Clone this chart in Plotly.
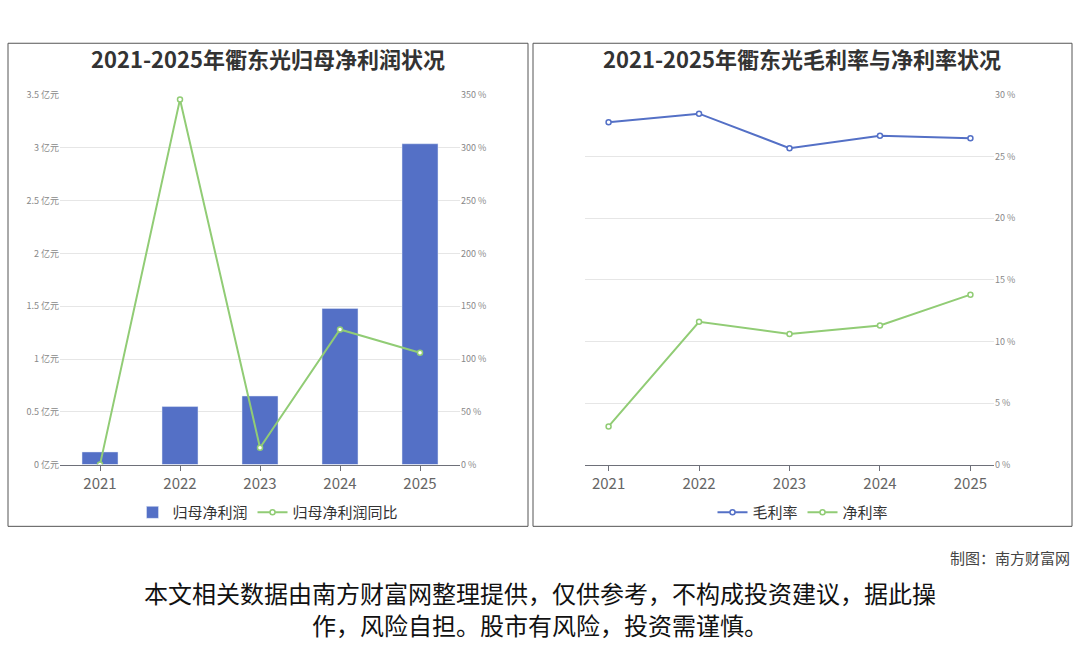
import plotly.graph_objects as go

years = ["2021", "2022", "2023", "2024", "2025"]
profit = [0.12, 0.55, 0.65, 1.48, 3.04]
profit_yoy = [0, 346, 16, 128, 106]
gross_margin = [27.8, 28.5, 25.7, 26.7, 26.5]
net_margin = [3.1, 11.6, 10.6, 11.3, 13.8]

W, H = 1080, 646
def px(x): return x / W
def py(y): return 1 - y / H

BLUE = "#5470c6"; GREEN = "#91cc75"
font = "Noto Sans CJK SC"
fig = go.Figure()
fig.add_trace(go.Bar(x=years, y=profit, name="归母净利润", marker_color=BLUE, width=0.45,
                     xaxis="x", yaxis="y", legend="legend"))
fig.add_trace(go.Scatter(x=years, y=profit_yoy, name="归母净利润同比", mode="lines+markers",
                         line=dict(color=GREEN, width=2), marker=dict(size=5, color="white", line=dict(color=GREEN, width=1.5)),
                         xaxis="x", yaxis="y2", legend="legend"))
fig.add_trace(go.Scatter(x=years, y=gross_margin, name="毛利率", mode="lines+markers",
                         line=dict(color=BLUE, width=2), marker=dict(size=5, color="white", line=dict(color=BLUE, width=1.5)),
                         xaxis="x2", yaxis="y3", legend="legend2"))
fig.add_trace(go.Scatter(x=years, y=net_margin, name="净利率", mode="lines+markers",
                         line=dict(color=GREEN, width=2), marker=dict(size=5, color="white", line=dict(color=GREEN, width=1.5)),
                         xaxis="x2", yaxis="y3", legend="legend2"))

tickf = dict(size=9, color="#888")
xax = dict(type="category", showgrid=False, showline=True, linecolor="#6e7079", ticks="outside",
           tickcolor="#6e7079", tickfont=dict(size=15, color="#666"), fixedrange=True)
fig.update_layout(
    width=W, height=H, margin=dict(l=0, r=0, t=0, b=0), paper_bgcolor="white", plot_bgcolor="white",
    font=dict(family=font), showlegend=True,
    xaxis=dict(domain=[px(60), px(460)], anchor="y", **xax),
    yaxis=dict(domain=[py(467), py(90)], range=[0, 3.5], dtick=0.5, ticksuffix=" 亿元",
               gridcolor="#e6e6e6", tickfont=tickf, zeroline=False),
    yaxis2=dict(overlaying="y", side="right", anchor="x", range=[0, 350], dtick=50, ticksuffix=" %",
                showgrid=False, tickfont=tickf, zeroline=False),
    xaxis2=dict(domain=[px(585), px(994)], anchor="y3", **xax),
    yaxis3=dict(domain=[py(467), py(90)], anchor="x2", side="right", range=[0, 30], dtick=5, ticksuffix=" %",
                gridcolor="#e6e6e6", tickfont=tickf, zeroline=False),
    legend=dict(x=px(268), y=py(516), xanchor="center", yanchor="middle", orientation="h",
                bgcolor="rgba(0,0,0,0)", font=dict(size=15, color="#333")),
    legend2=dict(x=px(803), y=py(516), xanchor="center", yanchor="middle", orientation="h",
                 bgcolor="rgba(0,0,0,0)", font=dict(size=15, color="#333")),
    bargap=0.5,
)
for x0, x1 in [(8, 528), (533, 1072)]:
    fig.add_shape(type="rect", xref="paper", yref="paper", x0=px(x0), x1=px(x1), y0=py(530), y1=py(37),
                  line=dict(color="#555", width=1))
ann = dict(showarrow=False, xref="paper", yref="paper", yanchor="middle")
fig.add_annotation(x=px(268), y=py(52), xanchor="center", text="<b>2021-2025年衢东光归母净利润状况</b>",
                   font=dict(size=22, color="#333"), **ann)
fig.add_annotation(x=px(802), y=py(52), xanchor="center", text="<b>2021-2025年衢东光毛利率与净利率状况</b>",
                   font=dict(size=22, color="#333"), **ann)
fig.add_annotation(x=px(1072), y=py(562), text="制图：南方财富网", xanchor="right",
                   font=dict(size=15, color="#444"), **ann)
fig.add_annotation(x=0.5, y=py(598), xanchor="center",
                   text="本文相关数据由南方财富网整理提供，仅供参考，不构成投资建议，据此操",
                   font=dict(size=24, color="#111"), **ann)
fig.add_annotation(x=0.5, y=py(630), xanchor="center",
                   text="作，风险自担。股市有风险，投资需谨慎。",
                   font=dict(size=24, color="#111"), **ann)
fig.write_html("out.html", default_width="1080px", default_height="646px",
               config={"displayModeBar": False},
               post_script="document.body.style.margin='0';document.body.style.overflow='hidden';document.documentElement.style.overflow='hidden';")
